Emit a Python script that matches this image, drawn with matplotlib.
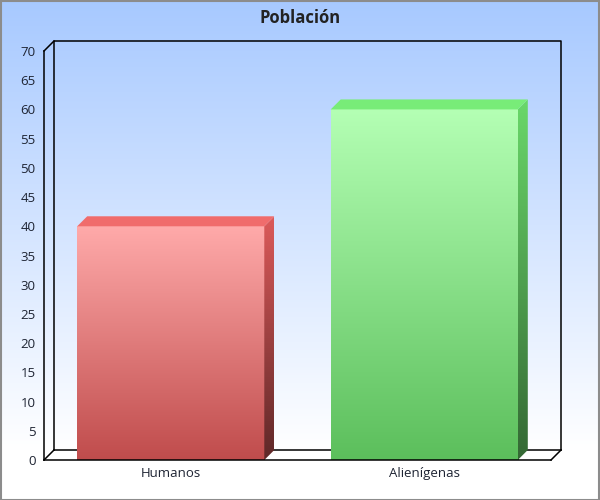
import numpy as np
import matplotlib
matplotlib.use("Agg")
import matplotlib.pyplot as plt
from matplotlib.patches import Polygon, Rectangle
from matplotlib.colors import LinearSegmentedColormap

categories = ["Humanos", "Alienígenas"]
values = [40, 60]
title = "Población"
y_ticks = list(range(0, 75, 5))

front_top = ["#ffaaaa", "#b4ffb4"]
front_bot = ["#c04c4c", "#5cbf5c"]
side_top = ["#dc5a5a", "#6ad86a"]
side_bot = ["#5e2828", "#346834"]
top_col = ["#f06c6c", "#78ec78"]

plt.rcParams['font.family'] = ['Open Sans', 'DejaVu Sans']

W, H, DPI = 600, 500, 100
fig = plt.figure(figsize=(W / DPI, H / DPI), dpi=DPI)

# background gradient
bg = fig.add_axes([0, 0, 1, 1], zorder=-10)
bg.set_axis_off()
yy = np.linspace(0, 1, 500)
t = np.clip(yy / 0.9, 0, 1)
c0 = np.array([0.655, 0.788, 1.0])
c1 = np.array([1.0, 1.0, 1.0])
grad = c0[None, :] * (1 - t[:, None]) + c1[None, :] * t[:, None]
bg.imshow(grad[:, None, :], aspect='auto', extent=[0, 1, 1, 0])
bg.set_xlim(0, 1); bg.set_ylim(1, 0)
fig.patches.append(Rectangle((0.5 / W, 0.5 / H), 1 - 1.5 / W, 1 - 1.5 / H, transform=fig.transFigure,
                             fill=False, edgecolor="#8c8c8c", linewidth=1.5, zorder=100))

# front plane axes: x 44..551 px, y 51..460 px (from top)
x0p, x1p, ytp, ybp = 44, 551, 51, 460
ax = fig.add_axes([x0p / W, 1 - ybp / H, (x1p - x0p) / W, (ybp - ytp) / H])
ax.patch.set_alpha(0)
ax.set_xlim(-0.5, len(categories) - 0.5)
ax.set_ylim(0, 70)
depth_px = 10
ddx = depth_px / ((x1p - x0p) / len(categories))
ddy = depth_px / ((ybp - ytp) / 70)

lw = 1.1
for s in ["top", "right"]:
    ax.spines[s].set_visible(False)
for s in ["left", "bottom"]:
    ax.spines[s].set_linewidth(lw)
    ax.spines[s].set_zorder(5)
ax.set_yticks(y_ticks)
ax.set_xticks(range(len(categories)))
ax.set_xticklabels(categories)
ax.tick_params(axis='both', length=0, labelsize=9.5, colors="#1e2433")
ax.tick_params(axis='y', pad=6)
ax.tick_params(axis='x', pad=5)

xa, xb = -0.5, len(categories) - 0.5
kw = dict(color="black", linewidth=lw, clip_on=False, zorder=1, solid_capstyle='projecting')
# floor (white)
ax.add_patch(Polygon([(xa, 0), (xb, 0), (xb + ddx, ddy), (xa + ddx, ddy)], closed=True,
                     facecolor="white", edgecolor="none", clip_on=False, zorder=0.5))
# back wall
ax.plot([xa + ddx, xa + ddx, xb + ddx, xb + ddx], [ddy, 70 + ddy, 70 + ddy, ddy], **kw)
ax.plot([xa + ddx, xb + ddx], [ddy, ddy], **kw)
# diagonals
ax.plot([xa, xa + ddx], [70, 70 + ddy], **kw)
ax.plot([xa, xa + ddx], [0, ddy], **kw)
ax.plot([xb, xb + ddx], [0, ddy], **kw)

width = 0.738
for i, v in enumerate(values):
    l, r = i - width / 2, i + width / 2
    cm_front = LinearSegmentedColormap.from_list("f", [front_bot[i], front_top[i]])
    cm_side = LinearSegmentedColormap.from_list("s", [side_bot[i], side_top[i]])
    g = np.linspace(0, 1, 256)[:, None]
    ax.imshow(g, cmap=cm_front, aspect='auto', extent=[l, r, 0, v], origin='lower',
              zorder=3, interpolation='bilinear')
    side = Polygon([(r, 0), (r + ddx, ddy), (r + ddx, v + ddy), (r, v)], closed=True,
                   facecolor='none', edgecolor='none', clip_on=False)
    ax.add_patch(side)
    im = ax.imshow(g, cmap=cm_side, aspect='auto', extent=[r, r + ddx, 0, v + ddy], origin='lower',
                   zorder=3, interpolation='bilinear', clip_on=True)
    im.set_clip_path(side)
    ax.add_patch(Polygon([(l, v), (r, v), (r + ddx, v + ddy), (l + ddx, v + ddy)], closed=True,
                         facecolor=top_col[i], edgecolor='none', clip_on=False, zorder=3))

ax.set_xlim(-0.5, len(categories) - 0.5)
ax.set_ylim(0, 70)

fig.text(0.5, 1 - 18 / H, title, ha='center', va='center', fontsize=12, fontweight='bold',
         color="#222222")

fig.savefig("out.png", dpi=DPI)
